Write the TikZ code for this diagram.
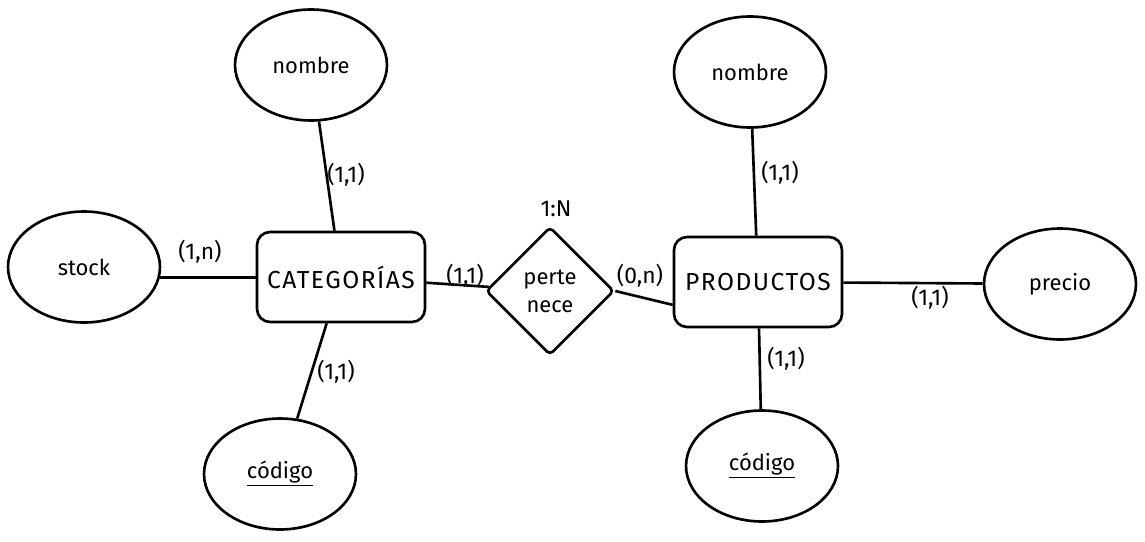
\documentclass[tikz,border=0pt]{standalone}
\usepackage{fontspec}
\setmainfont{Fira Sans}
\usepackage{tikz}
\usetikzlibrary{shapes.geometric}

\begin{document}
\begin{tikzpicture}[x=0.02cm, y=-0.02cm, line width=1.5pt, font=\fontsize{12.5}{14}\selectfont,
    attr/.style = {draw, ellipse, minimum width=3.04cm, minimum height=2.22cm, inner sep=0pt},
    entity/.style = {draw, rounded corners=0.26cm, minimum width=3.36cm, minimum height=1.8cm, inner sep=0pt,
        font=\fontsize{14}{16}\selectfont\addfontfeatures{LetterSpace=6}},
    rel/.style = {draw, diamond, aspect=1, minimum width=2.56cm, minimum height=2.56cm, inner sep=0pt, align=center, rounded corners=0.08cm},
    card/.style = {inner sep=1pt, font=\fontsize{13}{15}\selectfont}]

    \useasboundingbox (0,0) rectangle (1145,541);

    \node[entity] (cat) at (341,277) {CATEGORÍAS};
    \node[entity] (prod) at (758,282) {PRODUCTOS};
    \node[rel] (pert) at (550,291) {perte\\[2pt]nece};

    \node[attr] (catnom) at (311,65) {nombre};
    \node[attr] (stock) at (84,267) {stock};
    \node[attr] (catcod) at (280,474) {\underline{código}};
    \node[attr] (prodnom) at (750,72) {nombre};
    \node[attr] (precio) at (1060,284) {precio};
    \node[attr] (prodcod) at (762,466) {\underline{código}};

    \node[card] (tipo) at (556,209) {1:N};
    \node[card] (c1) at (346,175) {(1,1)};
    \node[card] (c2) at (200,252) {(1,n)};
    \node[card] (c3) at (336,372) {(1,1)};
    \node[card] (c4) at (465,276) {(1,1)};
    \node[card] (c5) at (640,276) {(0,n)};
    \node[card] (c6) at (780,173) {(1,1)};
    \node[card] (c7) at (930,298) {(1,1)};
    \node[card] (c8) at (786,359) {(1,1)};

    \draw (catnom) -- (cat);
    \draw (stock.-8) -- (stock.-8 -| cat.west);
    \draw (cat) -- (catcod);
    \draw (cat) -- (pert);
    \draw (pert.east) -- (prod.-165);
    \draw (prodnom) -- (prod);
    \draw (prod) -- (precio);
    \draw (prod) -- (prodcod);

\end{tikzpicture}
\end{document}
